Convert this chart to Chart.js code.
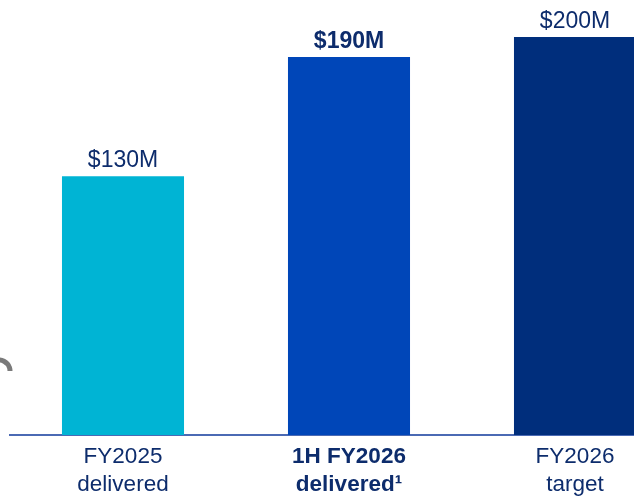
<!DOCTYPE html>
<html>
<head>
<meta charset="utf-8">
<script src="https://cdn.jsdelivr.net/npm/chart.js@4"></script>
<style>
  html, body { margin: 0; padding: 0; background: #fff; overflow: hidden; }
  #wrap { position: absolute; left: 0; top: 0; width: 700px; height: 500px; }
</style>
</head>
<body>
<div id="wrap"><canvas id="savingsChart" width="700" height="500"></canvas></div>
<script>
"use strict";
const categories = [["FY2025", "delivered"], ["1H FY2026", "delivered\u00B9"], ["FY2026", "target"]];
const values = [130, 190, 200];
const valueLabels = ["$130M", "$190M", "$200M"];
const boldIndex = [false, true, false];
const barColors = ["#00B4D4", "#0046B8", "#002E7C"];

const navy = "#0D2C6C";
const fontFamily = "'Liberation Sans', Arial, sans-serif";

// labels on top of the bars
const valueLabelPlugin = {
    id: 'valueLabels',
    afterDatasetsDraw(chart) {
        const { ctx } = chart;
        const meta = chart.getDatasetMeta(0);
        ctx.save();
        ctx.fillStyle = navy;
        ctx.textAlign = 'center';
        ctx.textBaseline = 'alphabetic';
        meta.data.forEach((bar, i) => {
            ctx.font = (boldIndex[i] ? 'bold ' : '') + '23px ' + fontFamily;
            ctx.fillText(valueLabels[i], bar.x, bar.y - 9);
        });
        ctx.restore();
    }
};

// grey fragment at the left edge of the slide
const edgeArcPlugin = {
    id: 'edgeArc',
    afterDraw(chart) {
        const { ctx } = chart;
        ctx.save();
        ctx.strokeStyle = '#7A7A7A';
        ctx.lineWidth = 5;
        ctx.beginPath();
        ctx.arc(-1, 371, 11, -Math.PI * 0.6, 0);
        ctx.stroke();
        ctx.restore();
    }
};

new Chart(document.getElementById('savingsChart'), {
    type: 'bar',
    data: {
        labels: categories,
        datasets: [{ data: values, backgroundColor: barColors, borderWidth: 0 }]
    },
    options: {
        responsive: false,
        animation: false,
        layout: { padding: { left: 10, right: 12, top: 0, bottom: 0 } },
        plugins: { legend: { display: false }, tooltip: { enabled: false } },
        datasets: { bar: { categoryPercentage: 1, barPercentage: 0.54 } },
        scales: {
            x: {
                grid: { display: false, drawTicks: false },
                border: { display: true, color: '#4B6AB4', width: 2 },
                ticks: {
                    color: navy,
                    padding: 8,
                    maxRotation: 0,
                    autoSkip: false,
                    font: (c) => ({ family: fontFamily, size: 22.5, lineHeight: 28 / 22.5, weight: boldIndex[c.index] ? 'bold' : 'normal' })
                },
                afterFit(scale) { scale.height = 65; }
            },
            y: { display: false, min: 0, max: 218.6 }
        }
    },
    plugins: [valueLabelPlugin, edgeArcPlugin]
});
</script>
</body>
</html>
